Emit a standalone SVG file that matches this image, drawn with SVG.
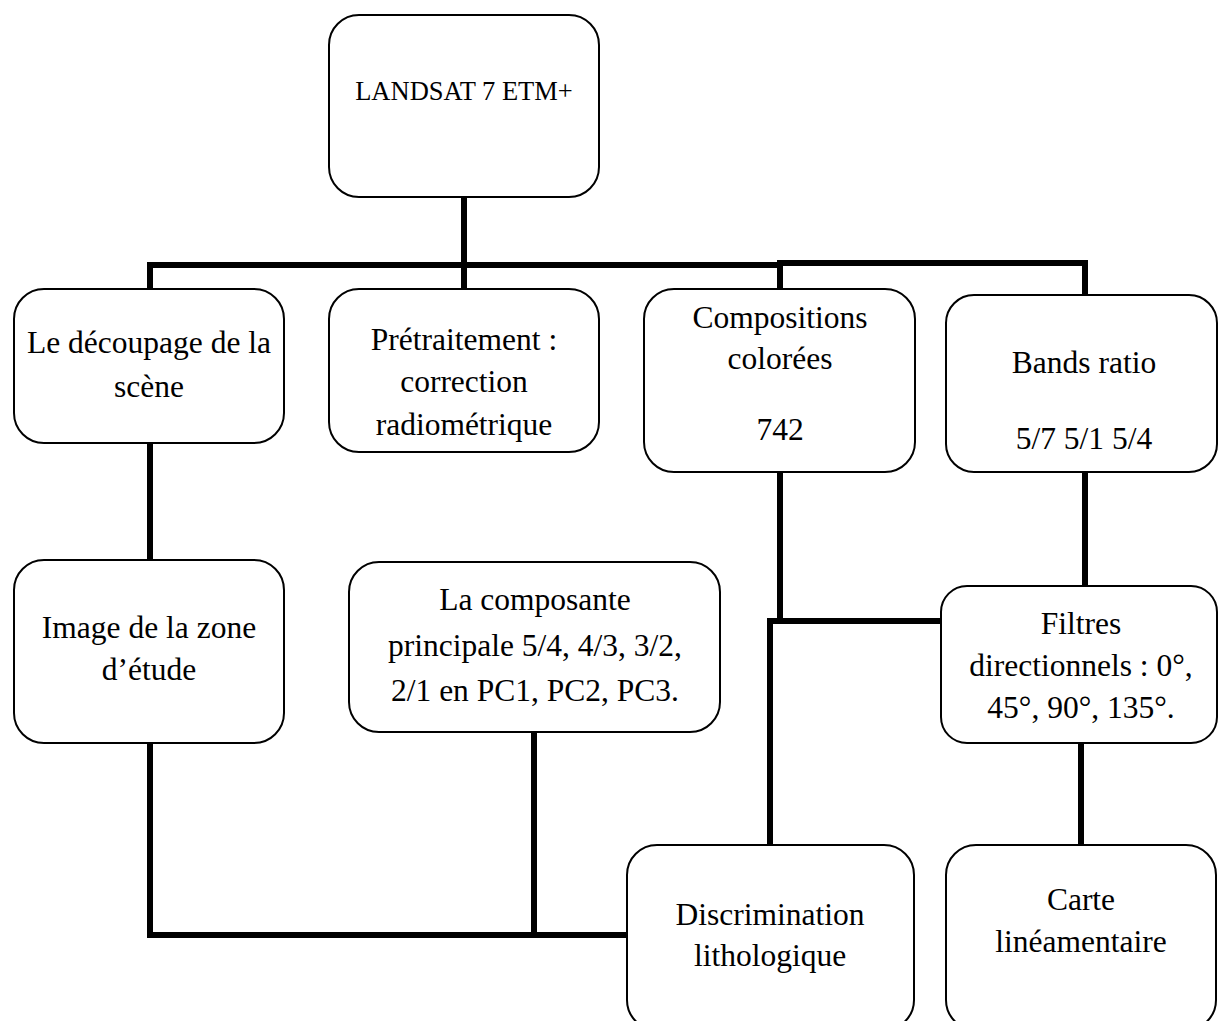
<svg xmlns="http://www.w3.org/2000/svg" width="1219" height="1021" viewBox="0 0 1219 1021">
<style>
.box{fill:#fff;stroke:#000;stroke-width:2}
.t{font-family:"Liberation Serif","Times New Roman",serif;font-size:31.5px;fill:#000;text-anchor:middle}
.ts{font-size:26.5px}
.c{fill:none;stroke:#000;stroke-width:6;stroke-linecap:square;stroke-linejoin:miter}
</style>
<rect width="1219" height="1021" fill="#fff"/>
<g id="connectors">
<path class="c" d="M464 198 V265"/>
<path class="c" d="M150 288 V265 H780"/>
<path class="c" d="M464 265 V288"/>
<path class="c" d="M780 288 V263 H1085 V294"/>
<path class="c" d="M150 444 V559"/>
<path class="c" d="M150 744 V935 H626"/>
<path class="c" d="M534 733 V935"/>
<path class="c" d="M780 473 V621"/>
<path class="c" d="M940 621 H770 V844"/>
<path class="c" d="M1085 473 V585"/>
<path class="c" d="M1081 744 V844"/>
</g>
<g id="n-landsat">
<rect class="box" x="329" y="15" width="270" height="182" rx="30"/>
<text class="t ts" x="464" y="100">LANDSAT 7 ETM+</text>
</g>
<g id="n-decoupage">
<rect class="box" x="14" y="289" width="270" height="154" rx="30"/>
<text class="t" x="149" y="353">Le découpage de la</text>
<text class="t" x="149" y="397">scène</text>
</g>
<g id="n-pretraitement">
<rect class="box" x="329" y="289" width="270" height="163" rx="30"/>
<text class="t" x="464" y="350">Prétraitement :</text>
<text class="t" x="464" y="392">correction</text>
<text class="t" x="464" y="435">radiométrique</text>
</g>
<g id="n-compositions">
<rect class="box" x="644" y="289" width="271" height="183" rx="30"/>
<text class="t" x="780" y="328">Compositions</text>
<text class="t" x="780" y="369">colorées</text>
<text class="t" x="780" y="440">742</text>
</g>
<g id="n-bands">
<rect class="box" x="946" y="295" width="271" height="177" rx="28"/>
<text class="t" x="1084" y="373">Bands ratio</text>
<text class="t" x="1084" y="449">5/7 5/1 5/4</text>
</g>
<g id="n-image">
<rect class="box" x="14" y="560" width="270" height="183" rx="30"/>
<text class="t" x="149" y="638">Image de la zone</text>
<text class="t" x="149" y="680">d’étude</text>
</g>
<g id="n-composante">
<rect class="box" x="349" y="562" width="371" height="170" rx="30"/>
<text class="t" x="535" y="610">La composante</text>
<text class="t" x="535" y="656">principale 5/4, 4/3, 3/2,</text>
<text class="t" x="535" y="701">2/1 en PC1, PC2, PC3.</text>
</g>
<g id="n-filtres">
<rect class="box" x="941" y="586" width="276" height="157" rx="26"/>
<text class="t" x="1081" y="634">Filtres</text>
<text class="t" x="1081" y="676">directionnels : 0°,</text>
<text class="t" x="1081" y="718">45°, 90°, 135°.</text>
</g>
<g id="n-discrimination">
<rect class="box" x="627" y="845" width="287" height="185" rx="30"/>
<text class="t" x="770" y="925">Discrimination</text>
<text class="t" x="770" y="966">lithologique</text>
</g>
<g id="n-carte">
<rect class="box" x="946" y="845" width="270" height="185" rx="30"/>
<text class="t" x="1081" y="910">Carte</text>
<text class="t" x="1081" y="952">linéamentaire</text>
</g>
</svg>
